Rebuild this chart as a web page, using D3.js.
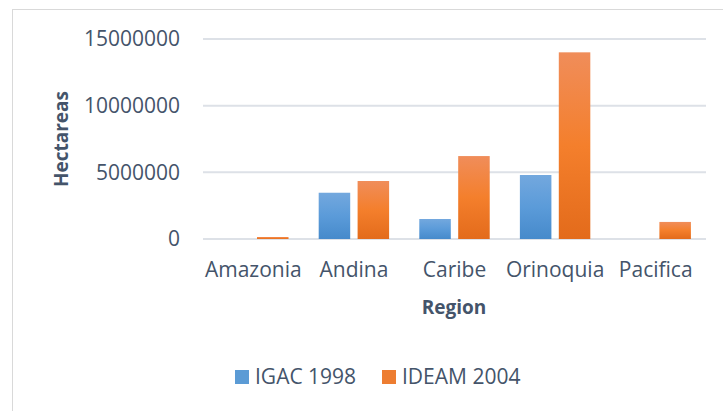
<!DOCTYPE html>
<html>
<head>
<meta charset="utf-8">
<script src="https://cdn.jsdelivr.net/npm/d3@7"></script>
<style>
  body { margin: 0; background: #fff; }
  svg { display: block; font-family: "Open Sans", sans-serif; }
</style>
</head>
<body>
<svg></svg>
<script>
let regions = ["Amazonia", "Andina", "Caribe", "Orinoquia", "Pacifica"];
let seriesNames = ["IGAC 1998", "IDEAM 2004"];
let igac1998 = [0, 3470000, 1500000, 4800000, 0];
let ideam2004 = [150000, 4350000, 6220000, 14000000, 1280000];
let yTicks = [0, 5000000, 10000000, 15000000];

let width = 723;
let height = 411;
let textColor = "#44546a";

let svg = d3.select("svg").attr("width", width).attr("height", height);

// gradients like the office chart style
let defs = svg.append("defs");
let makeGrad = (id, top, mid, bottom) => {
    let g = defs.append("linearGradient").attr("id", id)
        .attr("x1", 0).attr("y1", 0).attr("x2", 0).attr("y2", 1);
    g.append("stop").attr("offset", "0%").attr("stop-color", top);
    g.append("stop").attr("offset", "50%").attr("stop-color", mid);
    g.append("stop").attr("offset", "100%").attr("stop-color", bottom);
};
makeGrad("gBlue", "#73a8de", "#5b9bd9", "#468acb");
makeGrad("gOrange", "#f08d5a", "#f47f2c", "#e36b1b");
let fills = ["url(#gBlue)", "url(#gOrange)"];
let legendFills = ["#5b9bd5", "#ed7d31"];

// chart border
svg.append("rect")
    .attr("x", 12.5).attr("y", 9.5)
    .attr("width", 720).attr("height", 410)
    .attr("fill", "none").attr("stroke", "#d9d9d9").attr("stroke-width", 1);

let x0 = d3.scaleBand().domain(regions).range([203, 706])
    .paddingInner(0.3).paddingOuter(0.15);
let x1 = d3.scaleBand().domain(seriesNames).range([0, x0.bandwidth()])
    .paddingInner(0.19);
let y = d3.scaleLinear().domain([0, 15000000]).range([239, 39]);

// gridlines
svg.append("g")
    .selectAll("line")
    .data(yTicks)
    .enter()
    .append("line")
    .attr("x1", 203).attr("x2", 706)
    .attr("y1", d => y(d)).attr("y2", d => y(d))
    .attr("stroke", "#dde1e7").attr("stroke-width", 2);

// y axis labels
let yAxis = d3.axisLeft(y).tickValues(yTicks).tickFormat(d3.format("d")).tickSize(0).tickPadding(0);
let yg = svg.append("g").attr("transform", "translate(180,0)").call(yAxis);
yg.select(".domain").remove();
yg.selectAll("text").attr("fill", textColor).style("font-size", "21px")
    .style("font-family", "'Open Sans', sans-serif");

// bars
let values = [igac1998, ideam2004];
let groups = svg.append("g")
    .selectAll("g")
    .data(regions)
    .enter()
    .append("g")
    .attr("transform", d => "translate(" + x0(d) + ",0)");

groups.selectAll("rect")
    .data((d, i) => seriesNames.map((s, j) => ({ s: s, j: j, v: values[j][i] })))
    .enter()
    .filter(d => d.v > 0)
    .append("rect")
    .attr("x", d => x1(d.s))
    .attr("width", x1.bandwidth())
    .attr("y", d => y(d.v))
    .attr("height", d => y(0) - y(d.v))
    .attr("fill", d => fills[d.j]);

// x axis labels
let xAxis = d3.axisBottom(x0).tickSize(0).tickPadding(0);
let xg = svg.append("g").attr("transform", "translate(0,262)").call(xAxis);
xg.select(".domain").remove();
xg.selectAll("text").attr("fill", textColor).style("font-size", "21px")
    .style("font-family", "'Open Sans', sans-serif");

// axis titles
svg.append("text")
    .attr("transform", "translate(68,139) rotate(-90)")
    .attr("text-anchor", "middle")
    .attr("fill", textColor)
    .style("font-size", "19px").style("font-weight", "bold")
    .text("Hectareas");

svg.append("text")
    .attr("x", 454).attr("y", 314)
    .attr("text-anchor", "middle")
    .attr("fill", textColor)
    .style("font-size", "19px").style("font-weight", "bold")
    .text("Region");

// legend
let legendX = [235, 382];
let legend = svg.append("g")
    .selectAll("g")
    .data(seriesNames)
    .enter()
    .append("g")
    .attr("transform", (d, i) => "translate(" + legendX[i] + ",370)");
legend.append("rect").attr("width", 14).attr("height", 14)
    .attr("fill", (d, i) => legendFills[i]);
legend.append("text").attr("x", 20).attr("y", 14)
    .attr("fill", textColor).style("font-size", "21px")
    .text(d => d);
</script>
</body>
</html>
